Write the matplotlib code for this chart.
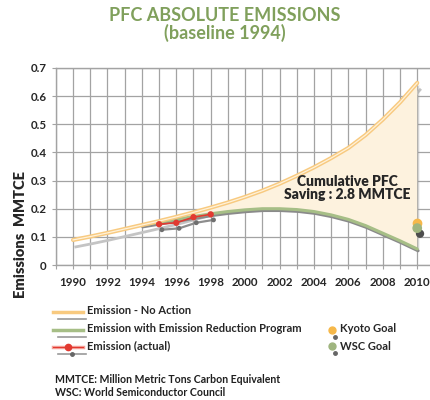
import matplotlib
matplotlib.use("Agg")
import matplotlib.pyplot as plt
import matplotlib.patheffects as pe
from matplotlib.lines import Line2D
from matplotlib.ticker import MultipleLocator

plt.rcParams["font.family"] = ["Lato", "DejaVu Sans"]
plt.rcParams["font.weight"] = "bold"

# --------------------------------------------------
# data (MMTCE)
# --------------------------------------------------
years_no_action = list(range(1990, 2011))
no_action = [0.089, 0.101, 0.114, 0.128, 0.142, 0.156, 0.171, 0.187, 0.204, 0.222,
             0.242, 0.264, 0.289, 0.317, 0.347, 0.380, 0.416, 0.462, 0.517, 0.578, 0.647]

years_program = list(range(1994, 2011))
program = [0.142, 0.152, 0.162, 0.172, 0.182, 0.190, 0.196, 0.200, 0.200, 0.197,
           0.190, 0.178, 0.162, 0.140, 0.113, 0.086, 0.057]

years_actual = [1995, 1996, 1997, 1998]
actual = [0.145, 0.150, 0.170, 0.180]

goal_year = 2010
kyoto_goal = 0.149
wsc_goal = 0.131

saving_text = "Cumulative PFC\nSaving : 2.8 MMTCE"

# colours
ORANGE = "#f8ca80"
ORANGE_LIGHT = "#fff2da"
GREEN = "#a6be86"
RED = "#e23a31"
FILL = "#fdf2de"
GRID = "#a3a3a3"
TEXT = "#262626"
TITLE = "#80a05c"

# --------------------------------------------------
# figure
# --------------------------------------------------
fig = plt.figure(figsize=(4.31, 4.0), dpi=100)
ax = fig.add_axes([0.1295, 0.3375, 0.8705, 0.4925])

ax.set_xlim(1989, 2010.8)
ax.set_ylim(0, 0.7)

# shadows first so the saving area covers them
ax.plot(years_no_action, no_action, lw=2.0, alpha=0, zorder=2,
        path_effects=[pe.SimpleLineShadow(offset=(2, -5), shadow_color="#c4c4c4", alpha=1.0, rho=1)])
ax.plot(years_actual, actual, lw=1.6, alpha=0, zorder=2,
        path_effects=[pe.SimpleLineShadow(offset=(2, -4), shadow_color="#8d8d8d", alpha=1.0, rho=1)])

# saving area
area = ax.fill_between(years_program, program, no_action[years_no_action.index(1994):],
                       color=FILL, lw=0, zorder=3)
area.set_path_effects([pe.SimplePatchShadow(offset=(1.5, -1.5), shadow_rgbFace="#9a9a9a", alpha=0.35),
                       pe.Normal()])

# lines
ax.plot(years_program, program, lw=2.2, color=GREEN, zorder=4, solid_capstyle="round",
        path_effects=[pe.SimpleLineShadow(offset=(0.6, -1.3), shadow_color="#8a8a8a", alpha=1, rho=1),
                      pe.Normal()])
ax.plot(years_no_action, no_action, lw=3.0, color=ORANGE, zorder=5, solid_capstyle="round")
ax.plot(years_no_action, no_action, lw=0.9, color=ORANGE_LIGHT, zorder=5)

ax.plot(years_actual, actual, lw=1.2, color=RED, zorder=6)
ax.plot(years_actual, actual, "o", ms=3.5, color=RED, zorder=6,
        path_effects=[pe.SimplePatchShadow(offset=(2, -4), shadow_rgbFace="#6f6f6f", alpha=1),
                      pe.Normal()])

# goals
ax.plot([goal_year], [kyoto_goal], "o", ms=6, color="#f6b84a", zorder=7)
ax.plot([goal_year], [wsc_goal], "o", ms=6, color="#9fb57f", zorder=8,
        path_effects=[pe.SimplePatchShadow(offset=(2, -4), shadow_rgbFace="#4d4d4d", alpha=1),
                      pe.Normal()])

ax.text(2005.95, 0.274, saving_text, ha="center", va="center", fontsize=10,
        fontweight="heavy", color=TEXT, linespacing=0.95, zorder=9)

# axes styling
ax.xaxis.set_minor_locator(MultipleLocator(1))
ax.set_xticks(list(range(1990, 2011, 2)))
ax.set_xticklabels([str(y) for y in range(1990, 2011, 2)])
ax.set_yticks([i / 10 for i in range(8)])
ax.set_yticklabels(["0"] + [f"{i / 10:.1f}" for i in range(1, 8)])
ax.grid(True, which="both", color=GRID, lw=0.9, zorder=0)
ax.set_axisbelow(True)
ax.tick_params(axis="x", which="both", length=3, width=0.8, color=GRID, pad=6,
               labelsize=8.3, labelcolor=TEXT)
ax.tick_params(axis="y", length=3, width=0.8, color=GRID, pad=3.5,
               labelsize=8.3, labelcolor=TEXT)
for s in ["left", "bottom", "top"]:
    ax.spines[s].set_color(GRID)
    ax.spines[s].set_linewidth(1.0)
ax.spines["right"].set_visible(False)

fig.text(0.047, 0.415, "Emissions  MMTCE", rotation=90, ha="center", va="center",
         fontsize=10.5, fontweight="heavy", color=TEXT)

# title
fig.text(0.522, 0.962, "PFC ABSOLUTE EMISSIONS", ha="center", va="center",
         fontsize=13, fontweight="bold", color=TITLE)
fig.text(0.522, 0.917, "(baseline 1994)", ha="center", va="center",
         fontsize=13, fontweight="bold", color=TITLE)

# --------------------------------------------------
# legend (drawn by hand in figure pixels)
# --------------------------------------------------
W, H = 431.0, 400.0


def fx(px):
    return px / W


def fy(py):
    return 1 - py / H


def legend_line(y, color, lw, marker=False, mcolor=None):
    fig.add_artist(Line2D([fx(58), fx(86)], [fy(y + 7), fy(y + 7)], color="#9a9a9a", lw=1.2))
    fig.add_artist(Line2D([fx(53), fx(83)], [fy(y), fy(y)], color=color, lw=lw))
    if marker:
        fig.add_artist(Line2D([fx(72)], [fy(y + 7)], marker="o", ms=2.5, color="#666666", lw=0))
        fig.add_artist(Line2D([fx(53), fx(83)], [fy(y), fy(y)], color=RED, lw=0.8))
        fig.add_artist(Line2D([fx(68)], [fy(y)], marker="o", ms=4.5, color=mcolor, lw=0))


legend_line(312, ORANGE, 2.5)
legend_line(330, GREEN, 2.5)
legend_line(347, "#f4a29a", 2.5, marker=True, mcolor=RED)

legend_kw = dict(ha="left", va="center", fontsize=8, fontweight="bold", color=TEXT)
fig.text(fx(87), fy(311), "Emission - No Action", **legend_kw)
fig.text(fx(87), fy(329), "Emission with Emission Reduction Program", **legend_kw)
fig.text(fx(87), fy(346), "Emission (actual)", **legend_kw)

fig.add_artist(Line2D([fx(335)], [fy(336.5)], marker="o", ms=2.5, color="#666666", lw=0))
fig.add_artist(Line2D([fx(331.5)], [fy(329.5)], marker="o", ms=5, color="#f6b84a", lw=0))
fig.add_artist(Line2D([fx(335)], [fy(353)], marker="o", ms=2.5, color="#666666", lw=0))
fig.add_artist(Line2D([fx(331.5)], [fy(346)], marker="o", ms=5, color="#9fb57f", lw=0))
fig.text(fx(340), fy(329), "Kyoto Goal", **legend_kw)
fig.text(fx(340), fy(346), "WSC Goal", **legend_kw)

note_kw = dict(ha="left", va="center", fontsize=7.6, fontweight="bold", color="#1f1f1f")
fig.text(fx(55), fy(379.5), "MMTCE: Million Metric Tons Carbon Equivalent", **note_kw)
fig.text(fx(55), fy(392), "WSC: World Semiconductor Council", **note_kw)

fig.savefig("out.png", dpi=100)
